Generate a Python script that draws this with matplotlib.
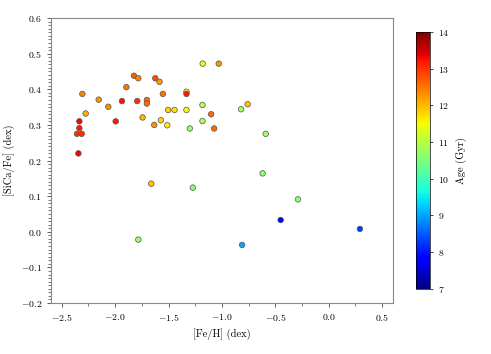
import numpy as np
import matplotlib
matplotlib.use("Agg")
import matplotlib.pyplot as plt
from matplotlib.ticker import MultipleLocator

plt.rcParams['font.family'] = 'serif'
plt.rcParams['font.serif'] = ['cmr10']
plt.rcParams['mathtext.fontset'] = 'cm'
plt.rcParams['axes.formatter.use_mathtext'] = True

# [Fe/H], [SiCa/Fe], age (Gyr)
feh = [-1.18, -1.03, -1.824, -1.783, -1.624, -1.584, -1.895, -1.332, -1.332,
       -2.307, -1.553, -2.154, -1.936, -1.793, -1.703, -1.703, -2.064, -1.182,
       -2.276, -1.503, -1.444, -1.332, -1.101, -2.335, -1.995, -1.743, -1.572,
       -1.182, -1.634, -1.512, -1.073, -1.301, -2.335, -2.357, -2.313, -2.344,
       -1.662, -1.273, -0.821, -0.759, -0.590, -0.619, -0.288, -1.783, -0.811,
       -0.450, 0.292]
sica = [0.472, 0.472, 0.438, 0.431, 0.431, 0.421, 0.406, 0.393, 0.387,
        0.387, 0.387, 0.371, 0.367, 0.367, 0.370, 0.360, 0.351, 0.356,
        0.332, 0.342, 0.342, 0.342, 0.330, 0.310, 0.310, 0.321, 0.313,
        0.311, 0.300, 0.299, 0.290, 0.290, 0.291, 0.275, 0.275, 0.220,
        0.135, 0.124, 0.344, 0.358, 0.275, 0.164, 0.091, -0.022, -0.037,
        0.033, 0.008]
age = [11.5, 12.3, 12.7, 12.4, 12.8, 12.2, 12.5, 11.6, 13.2,
       12.4, 12.5, 12.3, 13.2, 13.0, 12.6, 12.6, 12.3, 11.0,
       12.1, 11.8, 11.7, 11.5, 12.6, 13.3, 13.2, 12.0, 11.8,
       10.9, 12.3, 11.6, 12.6, 10.7, 13.2, 13.0, 13.0, 13.3,
       11.9, 10.6, 10.8, 11.9, 10.8, 10.6, 10.6, 10.7, 9.0,
       7.9, 8.3]

fig = plt.figure(figsize=(4.91, 3.54), dpi=100)
ax = fig.add_axes([0.104, 0.144, 0.696, 0.805])
sc = ax.scatter(feh, sica, c=age, cmap='jet', vmin=7, vmax=14, s=16,
                edgecolors='#555555', linewidths=0.5, zorder=3)

ax.set_xlim(-2.6, 0.6)
ax.set_ylim(-0.2, 0.6)
ax.xaxis.set_major_locator(MultipleLocator(0.5))
ax.xaxis.set_minor_locator(MultipleLocator(0.25))
ax.yaxis.set_major_locator(MultipleLocator(0.1))
ax.yaxis.set_minor_locator(MultipleLocator(0.01))
ax.tick_params(labelsize=7, length=3, width=0.6, color='#444444')
ax.tick_params(which='minor', length=2, width=0.5, color='#444444')
for s in ax.spines.values():
    s.set_color('#888888')
    s.set_linewidth(0.8)
ax.set_xlabel('[Fe/H] (dex)', fontsize=7.5)
ax.set_ylabel('[SiCa/Fe] (dex)', fontsize=7.5)

cax = fig.add_axes([0.847, 0.184, 0.029, 0.726])
cb = fig.colorbar(sc, cax=cax)
cb.set_ticks(range(7, 15))
cb.ax.tick_params(labelsize=7, length=2.5, width=0.5)
cb.outline.set_linewidth(0.5)
cb.set_label('Age (Gyr)', fontsize=7.5, labelpad=4)

fig.savefig('out.png', dpi=100)
